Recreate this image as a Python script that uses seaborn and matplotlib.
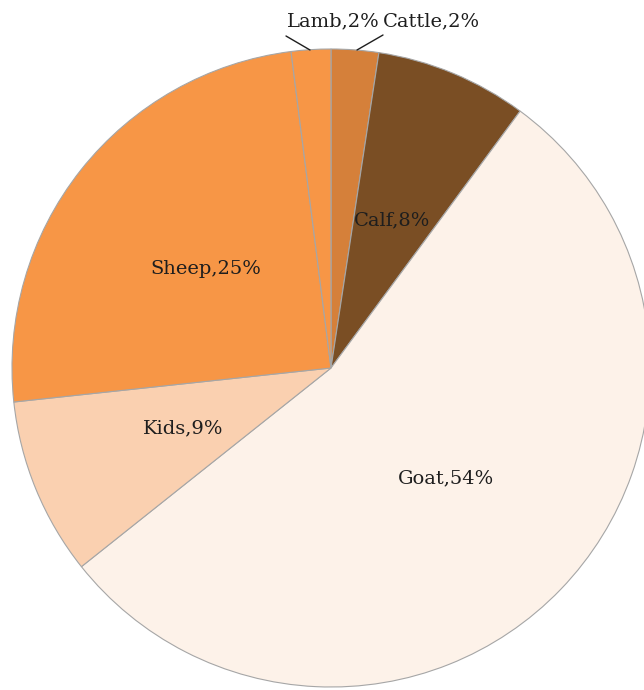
import matplotlib
matplotlib.use("Agg")
import matplotlib.pyplot as plt
import seaborn as sns
import numpy as np

sns.set_theme(style="white")
plt.rcParams['font.family'] = ['DejaVu Serif', 'Liberation Serif']

categories = ["Cattle", "Calf", "Goat", "Kids", "Sheep", "Lamb"]
values = [2.4, 7.7, 54.2, 9.0, 24.7, 2.0]
pct_labels = ["2%", "8%", "54%", "9%", "25%", "2%"]
colors = ["#D5803A", "#7A4E24", "#FDF2E9", "#FAD0B0", "#F79646", "#F79646"]

W, H = 644, 690
cx, cy, R = 331, 368, 319
FS = 14
TC = "#1E1E1E"
fig = plt.figure(figsize=(W / 100, H / 100), dpi=100)
ax = fig.add_axes([0, 0, 1, 1])
wedges, _ = ax.pie(values, colors=colors, startangle=90, counterclock=False,
                   radius=1.0, center=(0, 0),
                   wedgeprops=dict(edgecolor="#A6A6A6", linewidth=0.8))
ax.set_xlim(-cx / R, (W - cx) / R)
ax.set_ylim(-(H - cy) / R, cy / R)
ax.set_aspect("auto")
ax.axis("off")

total = sum(values)
start = 90.0
for i, (cat, v, p) in enumerate(zip(categories, values, pct_labels)):
    ang = start - 360 * v / total / 2
    start -= 360 * v / total
    text = f"{cat},{p}"
    if cat in ("Lamb", "Cattle"):
        continue
    r = 0.5
    ax.text(r * np.cos(np.radians(ang)), r * np.sin(np.radians(ang)), text,
            ha="center", va="center", fontsize=FS, color=TC)

def px(x, y):
    return ((x - cx) / R, (cy - y) / R)

# outside labels with leader lines
lx, ly = px(333, 21)
ax.text(lx, ly, f"{categories[5]},{pct_labels[5]}", ha="center", va="center",
        fontsize=FS, color=TC)
cxl, cyl = px(431, 21)
ax.text(cxl, cyl, f"{categories[0]},{pct_labels[0]}", ha="center", va="center",
        fontsize=FS, color=TC)
a1, b1 = px(286, 36); a2, b2 = px(310, 50)
ax.plot([a1, a2], [b1, b2], color=TC, lw=1)
a1, b1 = px(383, 35); a2, b2 = px(357, 50)
ax.plot([a1, a2], [b1, b2], color=TC, lw=1)

fig.savefig("out.png", dpi=100)
